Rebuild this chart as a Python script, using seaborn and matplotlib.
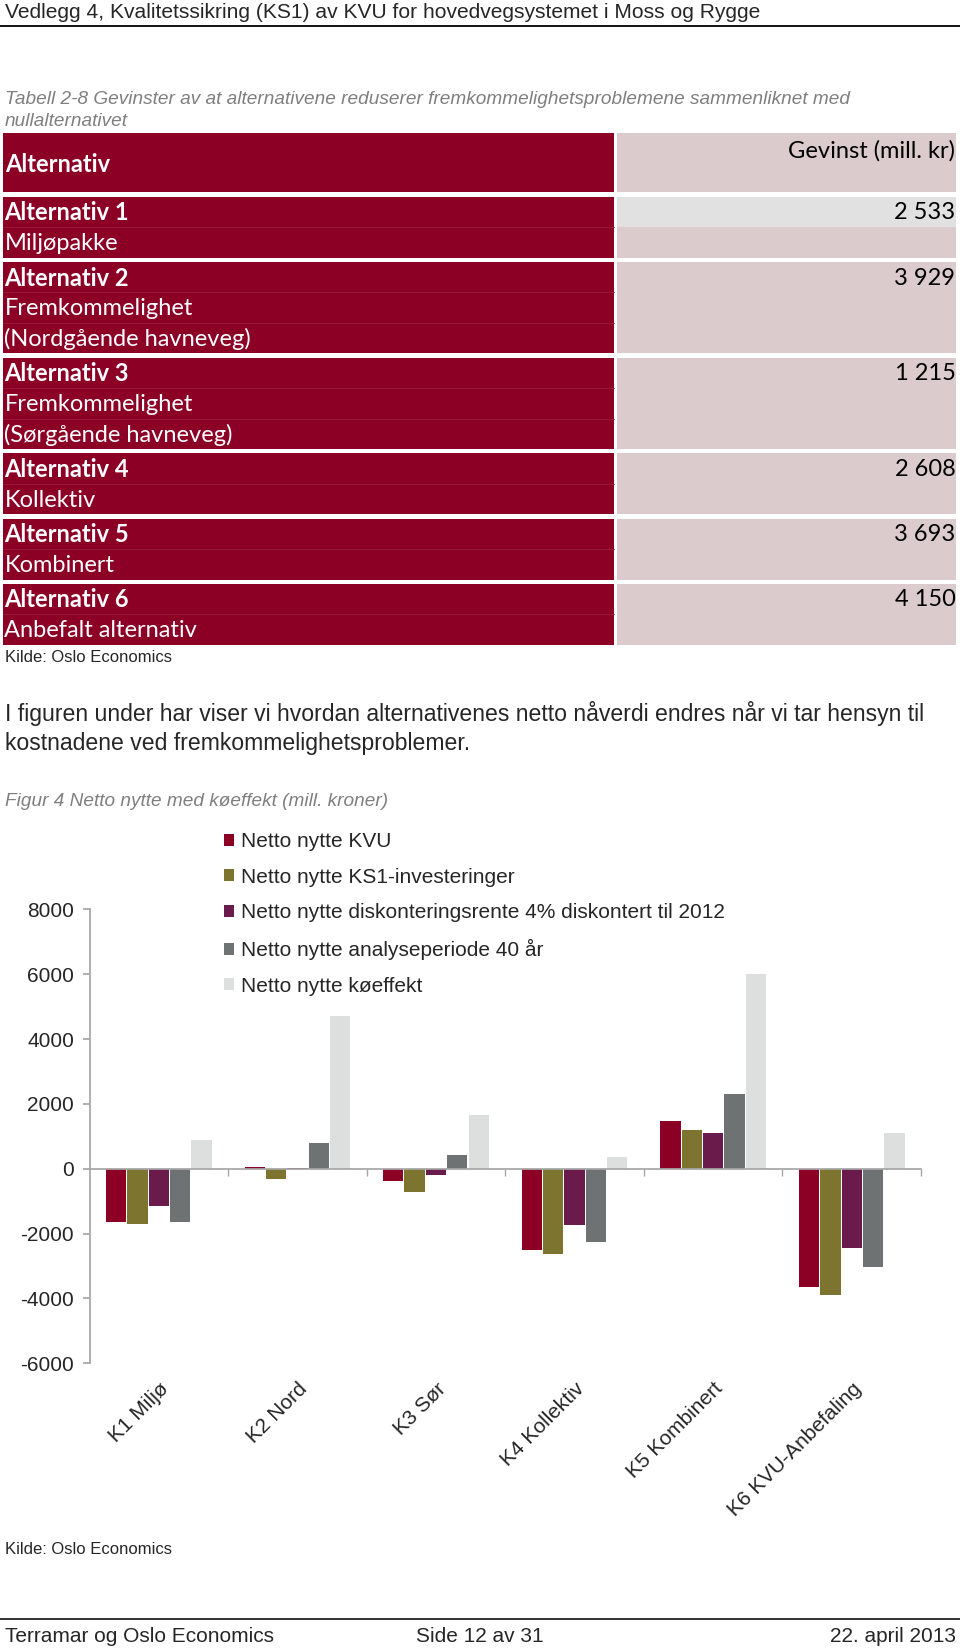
import numpy as np
import pandas as pd
import matplotlib
matplotlib.use("Agg")
import matplotlib.pyplot as plt
import seaborn as sns
from matplotlib.lines import Line2D
from matplotlib.patches import Rectangle
from matplotlib.transforms import blended_transform_factory

W, H = 960, 1648

# --- table data (Tabell 2-8) ---
alt_titles = ["Alternativ 1", "Alternativ 2", "Alternativ 3",
              "Alternativ 4", "Alternativ 5", "Alternativ 6"]
alt_extra = [["Miljøpakke"],
             ["Fremkommelighet", "(Nordgående havneveg)"],
             ["Fremkommelighet", "(Sørgående havneveg)"],
             ["Kollektiv"],
             ["Kombinert"],
             ["Anbefalt alternativ"]]
gevinst = [2533, 3929, 1215, 2608, 3693, 4150]

# --- chart data (Figur 4) ---
categories = ["K1 Miljø", "K2 Nord", "K3 Sør", "K4 Kollektiv",
              "K5 Kombinert", "K6 KVU-Anbefaling"]
series_names = ["Netto nytte KVU", "Netto nytte KS1-investeringer",
                "Netto nytte diskonteringsrente 4% diskontert til 2012",
                "Netto nytte analyseperiode 40 år", "Netto nytte køeffekt"]
netto_kvu = [-1650, 50, -370, -2500, 1460, -3640]
netto_ks1 = [-1700, -330, -710, -2640, 1200, -3900]
netto_disk = [-1160, 30, -205, -1740, 1090, -2440]
netto_40 = [-1630, 780, 420, -2245, 2300, -3015]
netto_ko = [880, 4700, 1650, 350, 6000, 1110]
colors = ["#8C0026", "#7D7430", "#6B1A4C", "#6F7272", "#DDDEDE"]

RED, PINK, LGRAY = "#8C0026", "#DBCBCD", "#E1E1E1"
ARIAL = ["Liberation Sans", "DejaVu Sans"]
CAL = ["Lato", "DejaVu Sans"]


def fx(x):
    return x / W


def fy(y):
    return 1 - y / H


sns.set_theme(style="white")
plt.rcParams["font.family"] = ARIAL
plt.rcParams["axes.unicode_minus"] = False

fig = plt.figure(figsize=(W / 100, H / 100), dpi=100)

# page header / footer
fig.text(fx(5), fy(13), "Vedlegg 4, Kvalitetssikring (KS1) av KVU for hovedvegsystemet i Moss og Rygge",
         fontsize=15.1, va="center")
fig.add_artist(Line2D([0, 1], [fy(25.5)] * 2, color="black", lw=1.3, transform=fig.transFigure))
fig.add_artist(Line2D([0, 1], [fy(1619)] * 2, color="#222222", lw=1.3, transform=fig.transFigure))
fig.text(fx(5), fy(1637), "Terramar og Oslo Economics", fontsize=15, va="center")
fig.text(fx(480), fy(1637), "Side 12 av 31", fontsize=15, va="center", ha="center")
fig.text(fx(956), fy(1637), "22. april 2013", fontsize=15, va="center", ha="right")

# captions and body text
gray_txt = dict(fontsize=13.7, style="italic", color="#7F7F7F", va="center")
fig.text(fx(5), fy(100), "Tabell 2-8 Gevinster av at alternativene reduserer fremkommelighetsproblemene sammenliknet med",
         **gray_txt)
fig.text(fx(5), fy(121), "nullalternativet", **gray_txt)
fig.text(fx(5), fy(658), "Kilde: Oslo Economics", fontsize=12, va="center")
fig.text(fx(5), fy(713), "I figuren under har viser vi hvordan alternativenes netto nåverdi endres når vi tar hensyn til",
         fontsize=16.6, va="center")
fig.text(fx(5), fy(743), "kostnadene ved fremkommelighetsproblemer.", fontsize=16.6, va="center")
fig.text(fx(5), fy(801), "Figur 4 Netto nytte med køeffekt (mill. kroner)", **gray_txt)
fig.text(fx(5), fy(1549), "Kilde: Oslo Economics", fontsize=12, va="center")

# --- table ---
LINE, GAP, HEAD = 30.5, 4.2, 59
TW = 953
SPLIT_L, SPLIT_R = 611, 614
n_lines = sum(1 + len(e) for e in alt_extra)
TH = HEAD + n_lines * LINE + len(alt_titles) * GAP

ax_t = fig.add_axes([fx(3), fy(133.5 + TH), TW / W, TH / H])
ax_t.set_xlim(0, TW)
ax_t.set_ylim(TH, 0)
ax_t.axis("off")

cell_txt = dict(fontsize=17, va="center", family=CAL)
ax_t.add_patch(Rectangle((0, 0), SPLIT_L, HEAD, color=RED, lw=0))
ax_t.add_patch(Rectangle((SPLIT_R, 0), TW - SPLIT_R, HEAD, color=PINK, lw=0))
ax_t.text(2, HEAD / 2 + 2, "Alternativ", color="white", fontweight="bold", **cell_txt)
ax_t.text(TW - 0.5, LINE / 2 + 2, "Gevinst (mill. kr)", color="black", ha="right", **cell_txt)

y = HEAD + GAP
for i, (title, extra, val) in enumerate(zip(alt_titles, alt_extra, gevinst)):
    lines = [title] + extra
    h = len(lines) * LINE
    ax_t.add_patch(Rectangle((0, y), SPLIT_L, h, color=RED, lw=0))
    ax_t.add_patch(Rectangle((SPLIT_R, y), TW - SPLIT_R, h, color=PINK, lw=0))
    if i == 0:
        ax_t.add_patch(Rectangle((SPLIT_R, y), TW - SPLIT_R, LINE, color=LGRAY, lw=0))
    for j, txt in enumerate(lines):
        ax_t.text(1.5, y + (j + 0.5) * LINE + 1, txt, color="white",
                  fontweight="bold" if j == 0 else "normal", **cell_txt)
        if j > 0:
            ax_t.plot([0, SPLIT_L], [y + j * LINE] * 2, color="#99203C", lw=0.6)
    ax_t.text(TW - 0.5, y + 0.5 * LINE + 1, f"{val:,}".replace(",", " "), color="black",
              ha="right", **cell_txt)
    y += h + GAP

# --- bar chart ---
values = [netto_kvu, netto_ks1, netto_disk, netto_40, netto_ko]
df = pd.DataFrame({
    "Alternativ": np.tile(categories, len(series_names)),
    "Serie": np.repeat(series_names, len(categories)),
    "Verdi": np.concatenate(values),
})

ax = fig.add_axes([fx(89.5), fy(1363.3), (921 - 89.5) / W, (1363.3 - 909.3) / H])
sns.barplot(data=df, x="Alternativ", y="Verdi", hue="Serie", order=categories,
            hue_order=series_names, palette=colors, saturation=1, width=0.77,
            gap=0.05, linewidth=0, errorbar=None, ax=ax)

axis_gray = "#A6A6A6"
ax.set_xlim(-0.5, len(categories) - 0.5)
ax.set_ylim(-6000, 8000)
ax.set_yticks(range(-6000, 8001, 2000))
ax.set_xlabel("")
ax.set_ylabel("")
for side in ["top", "right"]:
    ax.spines[side].set_visible(False)
ax.spines["left"].set_color(axis_gray)
ax.spines["bottom"].set_color(axis_gray)
ax.spines["bottom"].set_position(("data", 0))
ax.set_xticks(range(len(categories)))
ax.set_xticklabels([])
ax.set_xticks(np.arange(len(categories)) + 0.5, minor=True)
ax.tick_params(axis="x", which="major", length=0)
ax.tick_params(axis="x", which="minor", length=5, color=axis_gray, direction="out", bottom=True)
ax.tick_params(axis="y", length=5, color=axis_gray, direction="out", left=True,
               labelsize=15, pad=6)

trans = blended_transform_factory(ax.transData, ax.transAxes)
for i, lab in enumerate(categories):
    ax.text(i, -0.035, lab, rotation=45, ha="right", va="top", rotation_mode="anchor",
            transform=trans, fontsize=15)

handles, labels = ax.get_legend_handles_labels()
ax.legend(handles, labels, loc="upper left", bbox_to_anchor=(fx(224), fy(832)),
          bbox_transform=fig.transFigure, frameon=False, fontsize=15,
          handlelength=0.5, handleheight=0.5, handletextpad=0.3,
          labelspacing=0.8, borderpad=0, borderaxespad=0)

fig.savefig("out.png", dpi=100)
